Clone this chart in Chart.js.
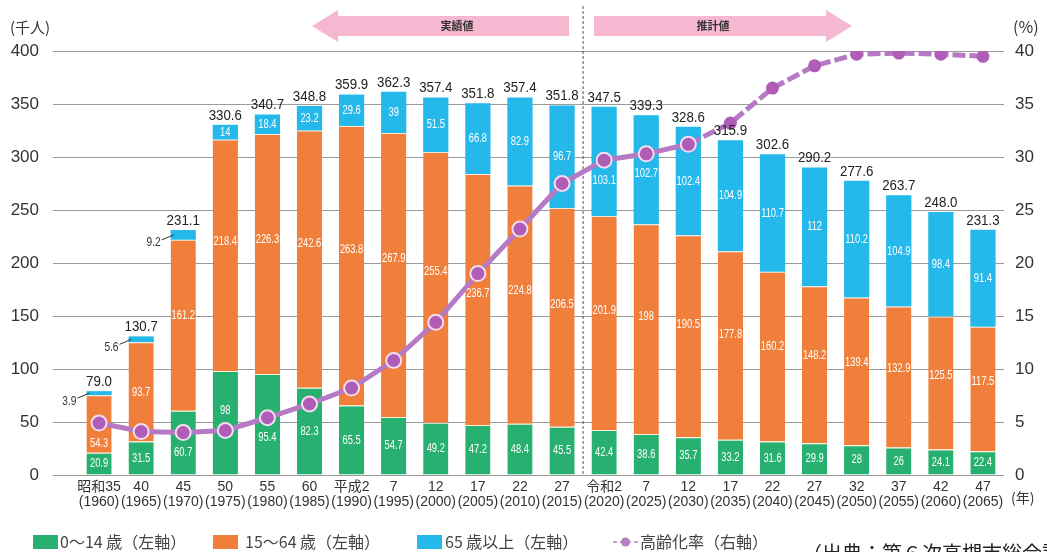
<!DOCTYPE html>
<html>
<head>
<meta charset="utf-8">
<script src="https://cdn.jsdelivr.net/npm/chart.js@4/dist/chart.umd.min.js"></script>
<style>
  html,body{margin:0;padding:0;background:#fff;overflow:hidden;}
  #wrap{width:1047px;height:552px;position:relative;}
</style>
</head>
<body>
<div id="wrap"><canvas id="c" width="1047" height="552"></canvas></div>
<script>
// ---- data ----
const eraLabels = ['昭和35','40','45','50','55','60','平成2','7','12','17','22','27','令和2','7','12','17','22','27','32','37','42','47'];
const yearLabels = ['(1960)','(1965)','(1970)','(1975)','(1980)','(1985)','(1990)','(1995)','(2000)','(2005)','(2010)','(2015)','(2020)','(2025)','(2030)','(2035)','(2040)','(2045)','(2050)','(2055)','(2060)','(2065)'];
const age0to14 = [20.9,31.5,60.7,98,95.4,82.3,65.5,54.7,49.2,47.2,48.4,45.5,42.4,38.6,35.7,33.2,31.6,29.9,28,26,24.1,22.4];
const age15to64 = [54.3,93.7,161.2,218.4,226.3,242.6,263.8,267.9,255.4,236.7,224.8,206.5,201.9,198,190.5,177.8,160.2,148.2,139.4,132.9,125.5,117.5];
const age65plus = [3.9,5.6,9.2,14,18.4,23.2,29.6,39,51.5,66.8,82.9,96.7,103.1,102.7,102.4,104.9,110.7,112,110.2,104.9,98.4,91.4];
const totals = [79.0,130.7,231.1,330.6,340.7,348.8,359.9,362.3,357.4,351.8,357.4,351.8,347.5,339.3,328.6,315.9,302.6,290.2,277.6,263.7,248.0,231.3];
const agingRate = [4.9,4.1,4.0,4.2,5.4,6.7,8.2,10.8,14.4,19.0,23.2,27.5,29.7,30.3,31.2,33.2,36.5,38.6,39.7,39.8,39.7,39.5];
const leftTicks = [0,50,100,150,200,250,300,350,400];
const rightTicks = [0,5,10,15,20,25,30,35,40];
const seriesNames = ['0～14 歳（左軸）','15～64 歳（左軸）','65 歳以上（左軸）','高齢化率（右軸）'];
const lastActualIndex = 11;   // 平成27(2015)
const lastSolidIndex = 14;    // 令和12(2030)

// ---- styles ----
const GREEN = '#27b06f', ORANGE = '#f07f3b', BLUE = '#25b8ea', PURPLE = '#b57ac3', MARK = '#b05db8', PINK = '#f6b7d1';
const NUMFONT = "'Liberation Sans', Arial, sans-serif";
const JPFONT = "'Noto Sans CJK JP', 'Liberation Sans', sans-serif";

function txt(ctx, s, x, y, size, color, sx, align, base, family, weight){
  ctx.save();
  ctx.translate(x, y);
  ctx.scale(sx, 1);
  ctx.font = (weight||'normal') + ' ' + size + 'px ' + (family||NUMFONT);
  ctx.fillStyle = color;
  ctx.textAlign = align || 'center';
  ctx.textBaseline = base || 'middle';
  ctx.fillText(s, 0, 0);
  ctx.restore();
}

const decoPlugin = {
  id: 'deco',
  beforeDatasetsDraw(chart){
    const ctx = chart.ctx, xs = chart.scales.x;
    const xd = (xs.getPixelForValue(lastActualIndex) + xs.getPixelForValue(lastActualIndex+1)) / 2;
    ctx.save();
    ctx.strokeStyle = '#555'; ctx.lineWidth = 1; ctx.setLineDash([3,2]);
    ctx.beginPath(); ctx.moveTo(xd, 6); ctx.lineTo(xd, 476); ctx.stroke();
    ctx.setLineDash([]);
    // arrows
    ctx.fillStyle = PINK;
    ctx.beginPath();
    ctx.moveTo(312,26); ctx.lineTo(338,10); ctx.lineTo(338,16); ctx.lineTo(xd-14,16);
    ctx.lineTo(xd-14,36); ctx.lineTo(338,36); ctx.lineTo(338,42); ctx.closePath(); ctx.fill();
    ctx.beginPath();
    ctx.moveTo(852,26); ctx.lineTo(826,10); ctx.lineTo(826,16); ctx.lineTo(xd+11,16);
    ctx.lineTo(xd+11,36); ctx.lineTo(826,36); ctx.lineTo(826,42); ctx.closePath(); ctx.fill();
    ctx.restore();
    txt(ctx, '実績値', 457, 26, 11, '#333', 1, 'center', 'middle', JPFONT, 'bold');
    txt(ctx, '推計値', 713, 26, 11, '#333', 1, 'center', 'middle', JPFONT, 'bold');
  },
  afterDatasetsDraw(chart){
    const ctx = chart.ctx;
    const lineMeta = chart.getDatasetMeta(3);
    const stacks = [chart.getDatasetMeta(0), chart.getDatasetMeta(1), chart.getDatasetMeta(2)];
    const values = [age0to14, age15to64, age65plus];
    for (let i = 0; i < totals.length; i++) {
      const markerY = lineMeta.data[i].y;
      for (let d = 0; d < 3; d++) {
        const el = stacks[d].data[i];
        const v = values[d][i];
        const top = el.y, base = el.base;
        const left = el.x - el.width/2;
        if (d === 2 && v < 10) {
          const mid = (top + base)/2;
          const lx = left - 10, ly = mid + 8;
          txt(ctx, String(v), lx, ly, 13, '#333', 0.78, 'right', 'middle');
          ctx.save(); ctx.strokeStyle = '#333'; ctx.lineWidth = 1;
          ctx.beginPath(); ctx.moveTo(lx + 1, ly - 3); ctx.lineTo(left + 3, mid); ctx.stroke();
          ctx.restore();
          continue;
        }
        let frac = (d === 1 && v >= 100) ? 0.56 : 0.5;
        let y = base + (top - base) * frac;
        const dy = y - markerY;
        if (Math.abs(dy) < 16) y = markerY + (dy >= 0 ? 20 : -20);
        txt(ctx, String(v), el.x, y, 13, '#fff', 0.72, 'center', 'middle');
      }
      const topEl = stacks[2].data[i];
      txt(ctx, totals[i].toFixed(1), topEl.x, topEl.y - 2, 14, '#222', 0.95, 'center', 'bottom');
    }
  },
  afterDraw(chart){
    const ctx = chart.ctx;
    txt(ctx, '(千人)', 10, 27, 15, '#333', 1, 'left', 'middle', JPFONT);
    txt(ctx, '(%)', 1013, 27, 16, '#333', 1, 'left', 'middle', JPFONT);
    txt(ctx, '(年)', 1011, 498, 14, '#333', 1, 'left', 'middle', JPFONT);
    // legend
    const boxes = [[33, GREEN, 60],[213, ORANGE, 245],[417, BLUE, 445]];
    boxes.forEach((b, k) => {
      ctx.fillStyle = b[1];
      ctx.fillRect(b[0], 535, 25, 14);
      txt(ctx, seriesNames[k], b[2], 542, 16, '#444', 1, 'left', 'middle', JPFONT);
    });
    ctx.save();
    ctx.strokeStyle = '#c9a0d2'; ctx.lineWidth = 2; ctx.setLineDash([4,3]);
    ctx.beginPath(); ctx.moveTo(613, 542); ctx.lineTo(638, 542); ctx.stroke();
    ctx.setLineDash([]);
    ctx.fillStyle = '#b97fc4';
    ctx.beginPath(); ctx.arc(625.5, 542, 4.5, 0, Math.PI*2); ctx.fill();
    ctx.restore();
    txt(ctx, seriesNames[3], 640, 542, 16, '#444', 1, 'left', 'middle', JPFONT);
    txt(ctx, '（出典：第６次高槻市総合計画）', 802, 543, 20, '#222', 1, 'left', 'top', JPFONT);
  }
};

const labels = eraLabels.map((e, i) => [e, yearLabels[i]]);

new Chart(document.getElementById('c'), {
  type: 'bar',
  data: {
    labels,
    datasets: [
      { label: seriesNames[0], data: age0to14, backgroundColor: GREEN, borderColor: '#f4f1d8', borderWidth: {top:1,left:0,right:0,bottom:0}, borderSkipped: false, stack: 's', yAxisID: 'y', order: 1, categoryPercentage: 1, barPercentage: 0.6 },
      { label: seriesNames[1], data: age15to64, backgroundColor: ORANGE, borderColor: '#fbe9d6', borderWidth: {top:1,left:0,right:0,bottom:0}, borderSkipped: false, stack: 's', yAxisID: 'y', order: 1, categoryPercentage: 1, barPercentage: 0.6 },
      { label: seriesNames[2], data: age65plus, backgroundColor: BLUE, borderWidth: 0, stack: 's', yAxisID: 'y', order: 1, categoryPercentage: 1, barPercentage: 0.6 },
      { type: 'line', label: seriesNames[3], data: agingRate, yAxisID: 'y1', order: 0,
        borderColor: PURPLE, borderWidth: 5, tension: 0, fill: false,
        segment: { borderDash: c => c.p0DataIndex >= lastSolidIndex ? [13,4] : undefined },
        pointRadius: c => c.dataIndex <= lastSolidIndex ? 7.5 : 6.5,
        pointBorderWidth: c => c.dataIndex <= lastSolidIndex ? 2 : 0,
        pointBackgroundColor: MARK,
        pointBorderColor: '#f6dcf0' }
    ]
  },
  options: {
    responsive: false,
    animation: false,
    devicePixelRatio: 1,
    layout: { padding: { top: 51, left: 0, right: 0, bottom: 0 } },
    plugins: { legend: { display: false }, tooltip: { enabled: false } },
    scales: {
      x: {
        stacked: true,
        offset: true,
        grid: { display: false, drawTicks: false },
        border: { display: false },
        ticks: { autoSkip: false, maxRotation: 0, minRotation: 0, padding: 5, color: '#333',
                 font: { family: NUMFONT + ", 'Noto Sans CJK JP'", size: 14, lineHeight: 1.05 } },
        afterFit(s){ s.height = 77; }
      },
      y: {
        stacked: true, position: 'left', min: 0, max: 400,
        afterBuildTicks(s){ s.ticks = leftTicks.map(v => ({ value: v })); },
        grid: { color: '#9a9a9a', lineWidth: 1, drawTicks: true, tickLength: 25, tickColor: '#9a9a9a' },
        border: { display: false },
        ticks: { padding: 14, color: '#333', font: { family: NUMFONT, size: 17 } },
        afterFit(s){ s.width = 78; }
      },
      y1: {
        position: 'right', min: 0, max: 40,
        afterBuildTicks(s){ s.ticks = rightTicks.map(v => ({ value: v })); },
        grid: { display: false, drawTicks: false },
        border: { display: false },
        ticks: { padding: 11, color: '#333', font: { family: NUMFONT, size: 17 } },
        afterFit(s){ s.width = 43; }
      }
    }
  },
  plugins: [decoPlugin]
});
</script>
</body>
</html>
